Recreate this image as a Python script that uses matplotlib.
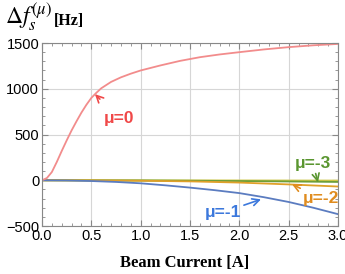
import numpy as np
import matplotlib
matplotlib.use("Agg")
import matplotlib.pyplot as plt
from matplotlib.ticker import MultipleLocator, FormatStrFormatter, FuncFormatter

plt.rcParams['mathtext.fontset'] = 'stix'

# valeurs
x_red = [0, 0.05, 0.1, 0.15, 0.2, 0.25, 0.3, 0.35, 0.4, 0.45, 0.5, 0.55, 0.6, 0.7, 0.8, 0.9,
         1.0, 1.2, 1.4, 1.6, 1.8, 2.0, 2.25, 2.5, 2.75, 3.0]
y_red = [0, 25, 90, 200, 320, 435, 545, 645, 740, 825, 900, 955, 1005, 1075, 1125, 1165,
         1200, 1255, 1305, 1345, 1375, 1400, 1430, 1455, 1475, 1490]

x_blue = [0, 0.25, 0.5, 0.75, 1.0, 1.25, 1.5, 1.75, 2.0, 2.25, 2.5, 2.75, 3.0]
y_blue = [0, -2, -8, -18, -33, -55, -80, -108, -140, -185, -237, -300, -370]

x_orange = [0, 0.5, 1.0, 1.5, 2.0, 2.5, 3.0]
y_orange = [0, -1, -5, -12, -25, -45, -68]

x_green = [0, 1.0, 2.0, 3.0]
y_green = [0, -2, -8, -18]

x_yellow = [0, 1.5, 3.0]
y_yellow = [0, -1, -3]

fig = plt.figure(figsize=(3.45, 2.74), dpi=100)
ax = fig.add_axes([0.1217, 0.175, 0.858, 0.668])

ax.plot(x_yellow, y_yellow, color='#CFC848', lw=1.3)
ax.plot(x_green, y_green, color='#6E9E38', lw=1.3)
ax.plot(x_orange, y_orange, color='#E0A028', lw=1.3)
ax.plot(x_blue, y_blue, color='#5B7CC0', lw=1.3)
ax.plot(x_red, y_red, color='#F28C8C', lw=1.3)

ax.set_xlim(0, 3)
ax.set_ylim(-500, 1500)
ax.xaxis.set_major_locator(MultipleLocator(0.5))
ax.xaxis.set_minor_locator(MultipleLocator(0.1))
ax.yaxis.set_major_locator(MultipleLocator(500))
ax.yaxis.set_minor_locator(MultipleLocator(100))
ax.xaxis.set_major_formatter(FormatStrFormatter('%.1f'))
ax.yaxis.set_major_formatter(FuncFormatter(
    lambda v, p: ('\u2212' + str(int(-v))) if v < 0 else str(int(v))))
ax.grid(True, which='major', color='#D6D6D6', lw=0.8)
ax.tick_params(which='both', direction='in', top=True, right=True, color='#888888',
               labelsize=10.5, pad=2)
ax.tick_params(which='major', length=4)
ax.tick_params(which='minor', length=2.2)
for lab in ax.get_xticklabels() + ax.get_yticklabels():
    lab.set_fontfamily('Liberation Sans')
for s in ax.spines.values():
    s.set_color('#888888')

kw = dict(fontsize=12.5, fontweight='bold', fontfamily='Liberation Sans', ha='center', va='center')
ax.annotate('μ=0', xy=(0.537, 941), xytext=(0.78, 678), color='#F04848',
            arrowprops=dict(arrowstyle='->', color='#F04848', lw=1.2, shrinkA=9, shrinkB=0), **kw)
ax.annotate('μ=-1', xy=(2.22, -208), xytext=(1.834, -350), color='#3C78DC',
            arrowprops=dict(arrowstyle='->', color='#3C78DC', lw=1.2, shrinkA=22, shrinkB=0), **kw)
ax.annotate('μ=-2', xy=(2.534, -44), xytext=(2.83, -197), color='#E08C1E',
            arrowprops=dict(arrowstyle='->', color='#E08C1E', lw=1.2, shrinkA=12, shrinkB=0), **kw)
ax.annotate('μ=-3', xy=(2.797, -22), xytext=(2.746, 186), color='#5A9630',
            arrowprops=dict(arrowstyle='->', color='#5A9630', lw=1.2, shrinkA=7, shrinkB=0), **kw)

fig.text(0.015, 0.935, r'$\Delta f_s^{(\mu)}$', fontsize=17, va='center', ha='left')
fig.text(0.155, 0.925, '[Hz]', fontsize=11.5, fontweight='bold', fontfamily='Liberation Serif',
         va='center', ha='left')
fig.text(0.535, 0.04, 'Beam Current [A]', fontsize=12, fontweight='bold',
         fontfamily='Liberation Serif', va='center', ha='center')

fig.savefig('out.png', dpi=100)
